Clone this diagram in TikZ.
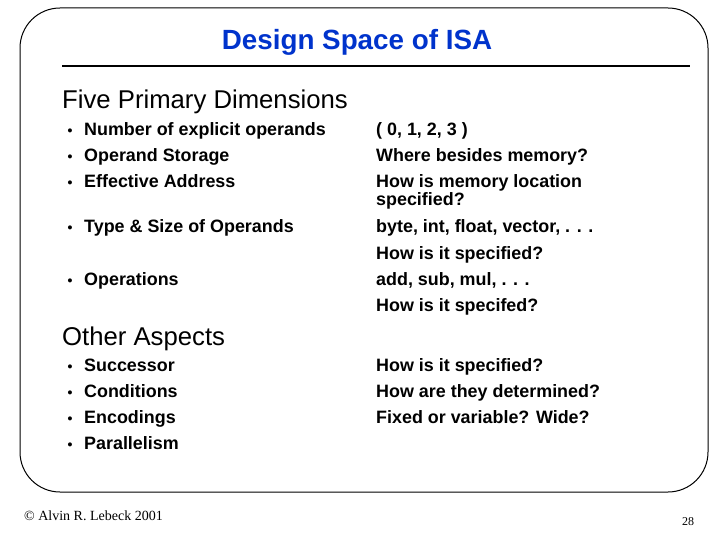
\documentclass[tikz,border=0pt]{standalone}
\usepackage{fontspec}
\setmainfont{Liberation Sans}
\newfontfamily\footfont{Liberation Serif}
\definecolor{titleblue}{RGB}{0,51,204}
\tikzstyle{item} = [anchor=base west, inner sep=0pt, font=\fontsize{17.9}{20}\selectfont\bfseries]
\tikzstyle{head} = [anchor=base west, inner sep=0pt, font=\fontsize{25.7}{28}\selectfont]
\tikzstyle{dot} = [anchor=base, inner sep=0pt, font=\fontsize{14}{16}\selectfont\bfseries]

\begin{document}
\begin{tikzpicture}[x=1pt, y=-1pt]
    \useasboundingbox (0,0) rectangle (720,540);
    \draw[line width=1pt, rounded corners=40pt] (20,8) rectangle (708,492);
    \node[inner sep=0pt, text=titleblue, font=\fontsize{27.8}{30}\selectfont\bfseries] (title) at (357,42) {Design Space of ISA};
    \coordinate (ruleL) at (62,66);
    \coordinate (ruleR) at (690,66);
    \draw[line width=1.2pt] (ruleL) -- (ruleR);

    % primary dimensions
    \node[head] (five) at (62,109) {Five Primary Dimensions};
    \foreach \y/\t in {136/Number of explicit operands, 162/Operand Storage, 188/Effective Address, 233/Type \& Size of Operands, 285/Operations}{
        \node[dot] at (70,\y) {\textbullet};
        \node[item] at (84,\y) {\t};
    }
    \foreach \y/\t in {136/{( 0, 1, 2, 3 )}, 162/Where besides memory?, 188/How is memory location, 206/specified?, 233/{byte, int, float, vector, . . .}, 259/How is it specified?, 285/{add, sub, mul, . . .}, 311/How is it specifed?}{
        \node[item] at (376,\y) {\t};
    }

    % other aspects
    \node[head] (other) at (62,345) {Other Aspects};
    \foreach \y/\t in {371/Successor, 397/Conditions, 423/Encodings, 449/Parallelism}{
        \node[dot] at (70,\y) {\textbullet};
        \node[item] at (84,\y) {\t};
    }
    \foreach \y/\t in {371/How is it specified?, 397/How are they determined?, 423/Fixed or variable? Wide?}{
        \node[item] at (376,\y) {\t};
    }

    % footer
    \node[anchor=west, inner sep=0pt, font=\footfont\fontsize{14}{16}\selectfont] (author) at (24,516) {\textcopyright{} Alvin R. Lebeck 2001};
    \node[inner sep=0pt, font=\footfont\fontsize{12}{14}\selectfont] (page) at (688,522) {28};
\end{tikzpicture}
\end{document}
